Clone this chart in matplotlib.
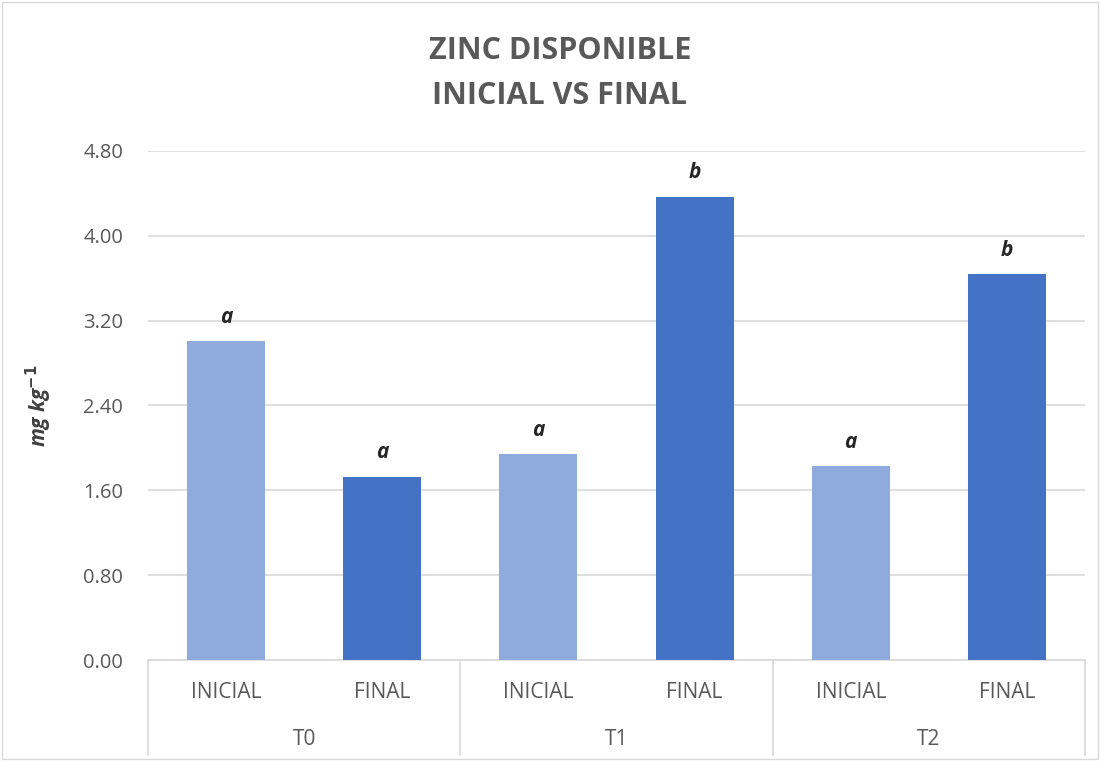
import matplotlib
matplotlib.use("Agg")
import matplotlib.pyplot as plt
from matplotlib.patches import Rectangle

plt.rcParams['font.family'] = ['Open Sans', 'DejaVu Sans']

groups = ["T0", "T1", "T2"]
phases = ["INICIAL", "FINAL"]
values = [3.01, 1.73, 1.94, 4.37, 1.83, 3.64]
letters = ["a", "a", "a", "b", "a", "b"]
yticks = [0.0, 0.8, 1.6, 2.4, 3.2, 4.0, 4.8]
colors = ["#8FAADC", "#4472C4"]

fig = plt.figure(figsize=(11, 7.61), dpi=100)
ax = fig.add_axes([148/1100, 1-660/761, (1085-148)/1100, (660-151)/761])

n = len(values)
xs = list(range(n))
barcolors = [colors[i % 2] for i in range(n)]
ax.bar(xs, values, width=0.5, color=barcolors, zorder=3)
ax.set_xlim(-0.5, n - 0.5)
ax.set_ylim(0, 4.8)
ax.set_yticks(yticks)
ax.set_yticklabels([f"{t:.2f}" for t in yticks], fontsize=14.5, color="#595959")
ax.tick_params(axis='y', length=0, pad=18)
ax.set_xticks([])
ax.grid(axis='y', color="#D9D9D9", linewidth=1.2, zorder=0)
for s in ["left", "right", "top"]:
    ax.spines[s].set_visible(False)
ax.spines["bottom"].set_color("#D9D9D9")
ax.spines["bottom"].set_linewidth(1.2)

for x, v, l in zip(xs, values, letters):
    ax.annotate(l, (x, v), xytext=(0, 17), textcoords="offset points",
                ha="center", va="center", fontsize=15, fontstyle="italic",
                fontweight="bold", color="#262626")

tr = ax.get_xaxis_transform()
for x in xs:
    ax.text(x, -0.063, phases[x % 2], transform=tr, ha="center", va="center",
            fontsize=15, color="#595959")
for gi, g in enumerate(groups):
    ax.text(gi * 2 + 0.5, -0.157, g, transform=tr, ha="center", va="center",
            fontsize=15, color="#595959")
for b in [-0.5, 1.5, 3.5, 5.5]:
    ax.plot([b, b], [0, -0.187], transform=tr, color="#D9D9D9", lw=1.2, clip_on=False)

ax.set_ylabel("mg kg$^{\\mathbf{-1}}$", fontsize=15, fontstyle="italic", fontweight="bold",
              color="#404040")
ax.yaxis.set_label_coords(-0.1, 0.5)

fig.text(560/1100, 1-51/761, "ZINC DISPONIBLE", ha="center", va="center",
         fontsize=22, fontweight="bold", color="#595959")
fig.text(560/1100, 1-96/761, "INICIAL VS FINAL", ha="center", va="center",
         fontsize=22, fontweight="bold", color="#595959")

fig.patches.append(Rectangle((0.002, 0.002), 0.996, 0.996, transform=fig.transFigure,
                             fill=False, edgecolor="#D9D9D9", lw=1))

fig.savefig("out.png", dpi=100)
